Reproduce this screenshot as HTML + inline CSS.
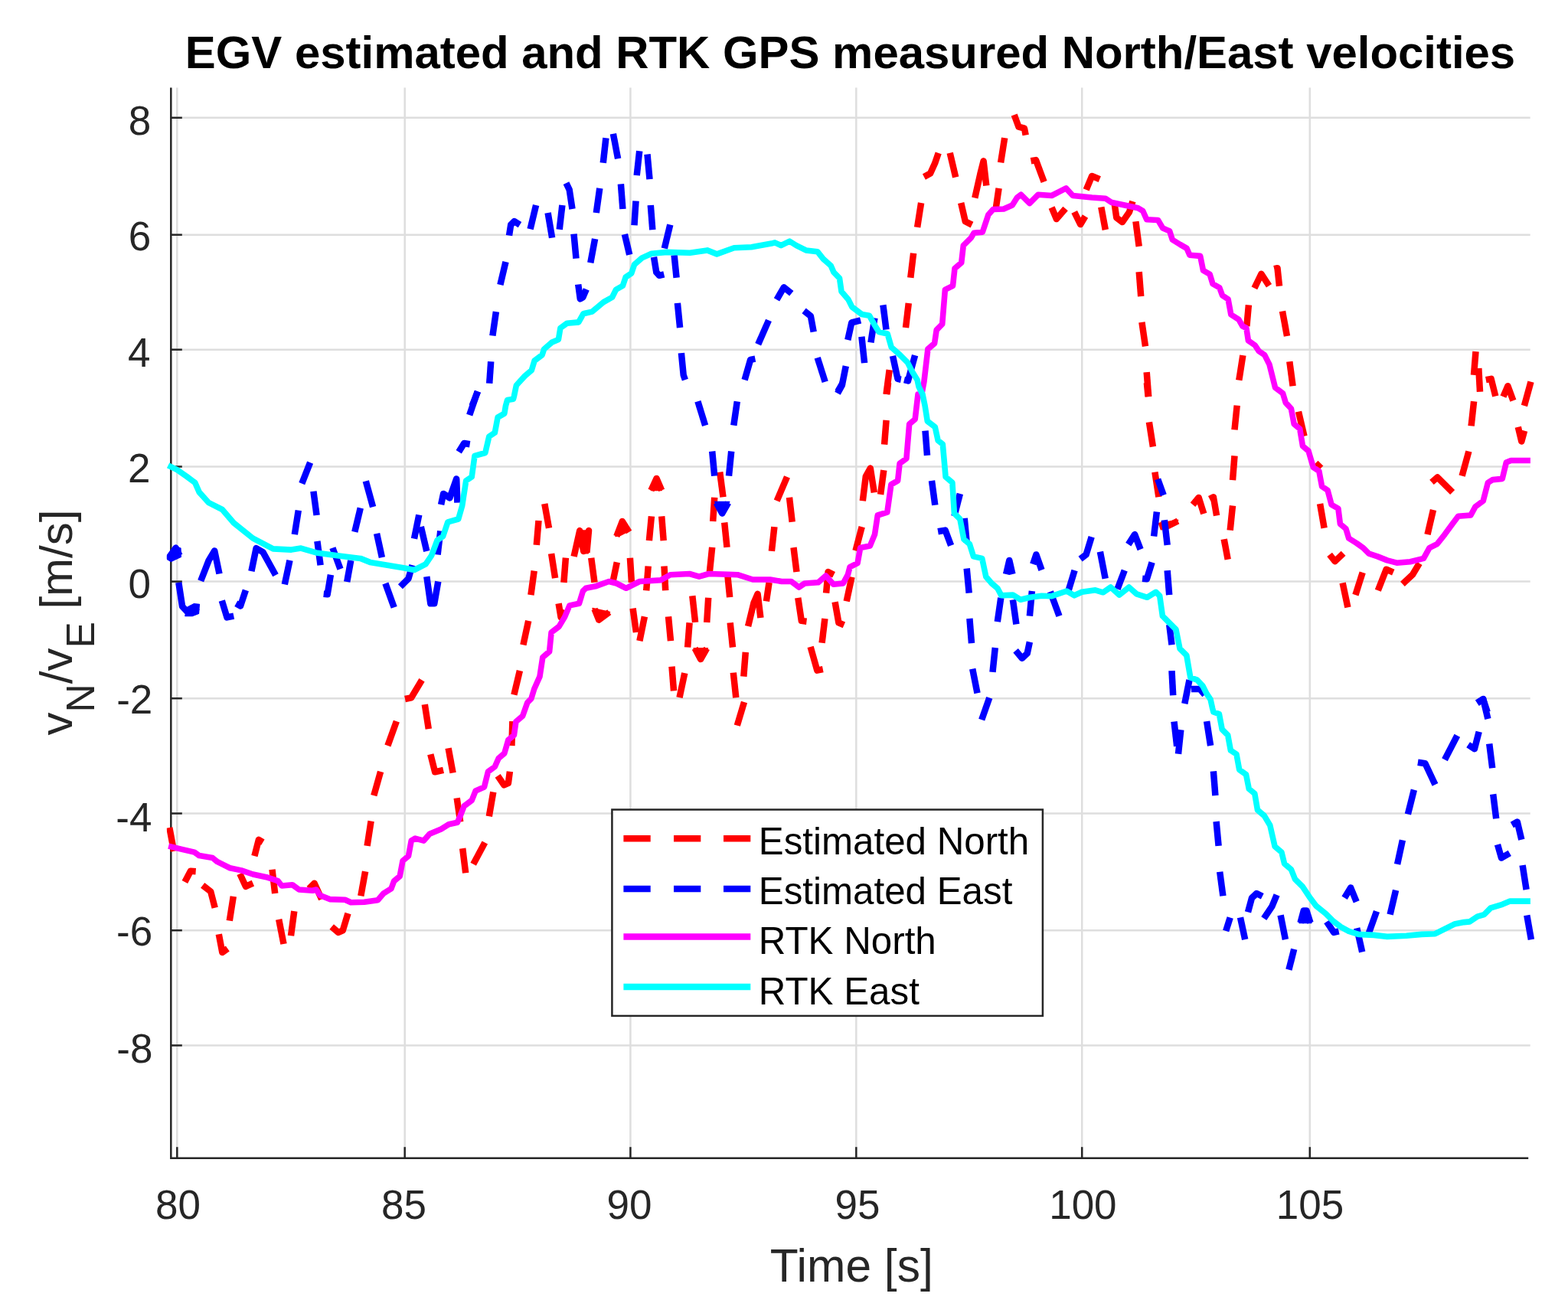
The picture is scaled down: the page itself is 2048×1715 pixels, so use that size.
<!DOCTYPE html>
<html lang="en"><head><meta charset="utf-8"><title>EGV estimated and RTK GPS measured North/East velocities</title>
<style>html,body{margin:0;padding:0;background:#fff}body{width:2048px;height:1715px;overflow:hidden}svg{display:block}text{font-family:"Liberation Sans",sans-serif}.tk{font-size:53px;fill:#262626}.lb{font-size:60.5px;fill:#262626}.lg{font-size:49.3px;fill:#000}.ti{font-size:59.9px;font-weight:bold;fill:#000}.g{stroke:#dedede;stroke-width:2.5;fill:none}.a{stroke:#262626;stroke-width:2.5;fill:none}.c{fill:none;stroke-width:8.5;stroke-linejoin:round;stroke-linecap:butt}</style></head><body>
<svg width="2048" height="1715" viewBox="0 0 2048 1715">
<rect width="2048" height="1715" fill="#fff"/>
<g class="g">
<line x1="231.3" y1="114.6" x2="231.3" y2="1512.7"/>
<line x1="528.7" y1="114.6" x2="528.7" y2="1512.7"/>
<line x1="823.4" y1="114.6" x2="823.4" y2="1512.7"/>
<line x1="1118.3" y1="114.6" x2="1118.3" y2="1512.7"/>
<line x1="1413.2" y1="114.6" x2="1413.2" y2="1512.7"/>
<line x1="1710.8" y1="114.6" x2="1710.8" y2="1512.7"/>
<line x1="223.3" y1="1365.5" x2="1998.7" y2="1365.5"/>
<line x1="223.3" y1="1215.2" x2="1998.7" y2="1215.2"/>
<line x1="223.3" y1="1062.5" x2="1998.7" y2="1062.5"/>
<line x1="223.3" y1="912.2" x2="1998.7" y2="912.2"/>
<line x1="223.3" y1="759.6" x2="1998.7" y2="759.6"/>
<line x1="223.3" y1="609.5" x2="1998.7" y2="609.5"/>
<line x1="223.3" y1="456.7" x2="1998.7" y2="456.7"/>
<line x1="223.3" y1="306.7" x2="1998.7" y2="306.7"/>
<line x1="223.3" y1="153.8" x2="1998.7" y2="153.8"/>
</g>
<g class="a">
<polyline points="223.3,114.6 223.3,1512.7 1996.2,1512.7"/>
<line x1="231.3" y1="1512.7" x2="231.3" y2="1498.2"/>
<line x1="528.7" y1="1512.7" x2="528.7" y2="1498.2"/>
<line x1="823.4" y1="1512.7" x2="823.4" y2="1498.2"/>
<line x1="1118.3" y1="1512.7" x2="1118.3" y2="1498.2"/>
<line x1="1413.2" y1="1512.7" x2="1413.2" y2="1498.2"/>
<line x1="1710.8" y1="1512.7" x2="1710.8" y2="1498.2"/>
<line x1="223.3" y1="1365.5" x2="237.8" y2="1365.5"/>
<line x1="223.3" y1="1215.2" x2="237.8" y2="1215.2"/>
<line x1="223.3" y1="1062.5" x2="237.8" y2="1062.5"/>
<line x1="223.3" y1="912.2" x2="237.8" y2="912.2"/>
<line x1="223.3" y1="759.6" x2="237.8" y2="759.6"/>
<line x1="223.3" y1="609.5" x2="237.8" y2="609.5"/>
<line x1="223.3" y1="456.7" x2="237.8" y2="456.7"/>
<line x1="223.3" y1="306.7" x2="237.8" y2="306.7"/>
<line x1="223.3" y1="153.8" x2="237.8" y2="153.8"/>
</g>
<clipPath id="cp"><rect x="217.8" y="114.6" width="1786.9" height="1398.1"/></clipPath>
<g clip-path="url(#cp)">
<g class="c" stroke="#ff0000">
<polyline points="693.4,777.1 697.7,745.7"/>
<polyline points="683.4,842.3 690.2,810.9"/>
<polyline points="671.4,907.4 678.9,876.1"/>
<polyline points="221.3,1081.0 227.1,1111.9"/>
<polyline points="241.4,1152.0 248.9,1137.7 255.7,1138.2"/>
<polyline points="264.7,1156.3 275.2,1164.5 280.7,1185.8"/>
<polyline points="285.8,1220.2 290.3,1244.0 297.3,1239.0"/>
<polyline points="299.8,1202.6 304.8,1170.8"/>
<polyline points="313.3,1141.2 320.9,1157.8 330.4,1153.7"/>
<polyline points="332.4,1118.1 337.9,1096.8 343.4,1100.1"/>
<polyline points="355.5,1135.7 359.2,1167.0"/>
<polyline points="364.2,1200.9 370.5,1233.0"/>
<polyline points="380.0,1222.2 384.3,1190.1"/>
<polyline points="403.6,1160.8 410.6,1153.7 420.1,1174.6"/>
<polyline points="433.2,1210.4 442.0,1217.9 447.7,1215.4 454.5,1192.9"/>
<polyline points="471.3,1170.3 477.1,1138.2"/>
<polyline points="479.6,1104.9 484.6,1072.5"/>
<polyline points="488.3,1039.2 497.1,1007.8"/>
<polyline points="506.4,974.0 517.9,942.1"/>
<polyline points="529.0,913.0 537.2,911.3 551.0,888.2"/>
<polyline points="554.8,920.1 559.8,952.2"/>
<polyline points="562.3,985.2 568.1,1008.3 579.1,1005.8"/>
<polyline points="585.6,977.2 591.6,1009.6"/>
<polyline points="596.7,1042.4 601.2,1073.5"/>
<polyline points="604.2,1108.1 608.2,1140.2"/>
<polyline points="618.2,1128.7 633.3,1100.6"/>
<polyline points="638.8,1066.2 644.3,1034.6"/>
<polyline points="650.1,1013.3 658.3,1025.4 663.9,1022.9 665.9,1007.8"/>
<polyline points="668.4,974.0 669.4,942.1"/>
<polyline points="700.8,711.9 703.5,680.0"/>
<polyline points="711.3,658.0 717.0,689.8"/>
<polyline points="720.1,723.2 725.1,755.2"/>
<polyline points="729.6,788.3 732.6,806.4 737.6,797.1"/>
<polyline points="736.4,760.8 738.9,728.7"/>
<polyline points="749.6,726.9 757.2,693.1 762.2,720.1 769.0,693.1 766.4,721.9"/>
<polyline points="772.2,728.7 776.5,760.8"/>
<polyline points="776.5,795.4 782.2,809.7 795.8,799.6"/>
<polyline points="800.3,760.8 805.8,734.4"/>
<polyline points="805.3,700.6 812.8,681.0 821.6,695.1"/>
<polyline points="822.9,728.7 824.9,760.8"/>
<polyline points="826.6,794.6 830.9,826.0"/>
<polyline points="835.4,837.2 841.9,805.4"/>
<polyline points="844.2,771.3 846.7,739.5"/>
<polyline points="847.9,706.1 850.9,674.3"/>
<polyline points="850.4,640.4 857.5,624.9 864.2,640.4"/>
<polyline points="864.2,674.3 866.7,706.1"/>
<polyline points="867.5,739.5 869.2,771.3"/>
<polyline points="873.0,805.4 876.0,837.2"/>
<polyline points="877.5,870.6 880.0,902.4"/>
<polyline points="887.5,911.2 894.3,879.1"/>
<polyline points="898.1,845.5 900.6,813.4"/>
<polyline points="904.3,778.3 908.1,812.9"/>
<polyline points="907.6,846.8 915.1,861.1 923.2,846.8"/>
<polyline points="923.2,812.9 925.2,780.8"/>
<polyline points="926.9,747.0 930.2,714.9"/>
<polyline points="931.2,681.0 933.2,649.7"/>
<polyline points="940.2,616.6 944.5,649.2"/>
<polyline points="946.2,682.5 949.5,714.9"/>
<polyline points="950.0,748.2 953.2,780.1"/>
<polyline points="953.7,813.4 957.0,845.5"/>
<polyline points="957.8,878.6 961.3,911.2"/>
<polyline points="962.8,947.6 972.0,917.0"/>
<polyline points="971.3,883.6 973.8,851.8"/>
<polyline points="977.1,817.9 984.6,787.1 989.6,775.8 993.4,807.1"/>
<polyline points="1000.9,785.3 1004.6,760.8"/>
<polyline points="1007.9,719.9 1011.4,688.1"/>
<polyline points="1014.7,654.2 1028.0,622.9"/>
<polyline points="1031.0,649.7 1034.7,681.8"/>
<polyline points="1036.5,715.1 1040.5,747.0"/>
<polyline points="1042.3,780.8 1046.8,810.9 1053.5,811.7"/>
<polyline points="1058.6,844.8 1067.3,875.6 1074.8,874.1"/>
<polyline points="1073.6,839.7 1077.4,807.9"/>
<polyline points="1079.1,774.6 1081.6,747.0 1089.1,750.7"/>
<polyline points="1090.6,786.3 1095.4,813.4 1102.4,816.4"/>
<polyline points="1105.7,785.3 1112.5,753.7"/>
<polyline points="1117.5,719.4 1125.7,688.1"/>
<polyline points="1126.8,654.2 1130.8,622.4 1136.8,611.6 1141.8,643.4"/>
<polyline points="1150.1,645.9 1154.3,614.1"/>
<polyline points="1155.1,580.7 1157.6,548.9"/>
<polyline points="1158.3,515.0 1160.1,500.0"/>
<polyline points="1157.5,515.0 1161.7,483.1"/>
<polyline points="1183.0,428.0 1186.8,395.9"/>
<polyline points="1189.3,362.8 1193.1,330.7"/>
<polyline points="1198.1,296.8 1203.1,265.0"/>
<polyline points="1206.9,230.9 1215.1,226.6 1221.1,213.3 1225.7,199.8"/>
<polyline points="1240.7,199.8 1248.2,231.6"/>
<polyline points="1255.2,265.0 1260.8,289.3 1269.5,293.6"/>
<polyline points="1273.3,258.5 1280.3,227.4 1284.6,210.3 1288.3,242.4"/>
<polyline points="1300.9,271.0 1304.6,245.9"/>
<polyline points="1307.1,212.3 1312.2,180.2"/>
<polyline points="1324.7,150.1 1330.5,165.7 1338.0,167.7 1339.7,176.5"/>
<polyline points="1346.5,210.3 1353.0,209.1 1363.6,237.4"/>
<polyline points="1373.6,271.0 1379.9,286.0 1391.6,272.5"/>
<polyline points="1403.2,276.8 1411.2,293.1 1417.5,282.5"/>
<polyline points="1418.7,247.9 1426.2,229.9 1436.3,234.1"/>
<polyline points="1438.3,270.5 1443.8,300.1"/>
<polyline points="1455.1,262.5 1458.3,284.3 1465.9,290.1 1475.1,276.8 1479.4,263.0"/>
<polyline points="1483.4,289.3 1487.7,321.9"/>
<polyline points="1487.7,355.2 1490.2,387.1"/>
<polyline points="1491.4,420.9 1496.0,452.3"/>
<polyline points="1497.7,486.1 1500.2,518.2"/>
<polyline points="1618.3,496.7 1623.4,464.1"/>
<polyline points="1628.4,426.0 1630.9,398.4"/>
<polyline points="1638.4,376.3 1647.4,357.8 1657.5,373.3"/>
<polyline points="1664.2,351.2 1668.5,350.2 1671.0,373.8"/>
<polyline points="1675.0,406.4 1681.0,439.0"/>
<polyline points="1684.3,472.3 1688.6,504.2"/>
<polyline points="1925.0,489.9 1927.5,459.1"/>
<polyline points="1931.3,481.1 1933.0,511.7"/>
<polyline points="1940.8,496.2 1947.6,494.9 1953.3,517.5"/>
<polyline points="1963.4,518.2 1969.4,504.2 1976.4,523.2"/>
<polyline points="1990.9,530.0 1999.5,498.7"/>
<polyline points="1497.9,500.0 1499.6,518.1"/>
<polyline points="1500.9,551.4 1505.9,583.5"/>
<polyline points="1508.4,616.6 1513.4,649.2"/>
<polyline points="1515.4,685.5 1526.0,686.8 1538.5,680.5"/>
<polyline points="1558.0,659.2 1565.6,649.9 1572.3,671.0"/>
<polyline points="1579.9,651.7 1584.9,649.2 1589.1,673.5"/>
<polyline points="1598.7,704.3 1603.7,730.7"/>
<polyline points="1606.7,692.6 1610.0,660.5"/>
<polyline points="1610.0,627.1 1612.5,595.3"/>
<polyline points="1612.5,561.4 1615.7,529.6"/>
<polyline points="1696.0,537.6 1703.5,569.7"/>
<polyline points="1718.5,604.8 1725.3,611.6"/>
<polyline points="1724.1,658.0 1729.6,689.8"/>
<polyline points="1736.6,724.4 1743.6,733.2 1754.6,722.7"/>
<polyline points="1753.6,761.3 1760.4,793.4"/>
<polyline points="1770.4,777.1 1779.7,747.7"/>
<polyline points="1799.8,771.3 1810.6,743.7 1819.8,747.7"/>
<polyline points="1831.9,762.8 1844.9,750.7 1853.9,735.7"/>
<polyline points="1864.5,698.1 1872.0,666.0"/>
<polyline points="1870.0,629.9 1877.5,623.4 1897.1,642.9"/>
<polyline points="1909.6,621.6 1918.4,589.5"/>
<polyline points="1921.6,556.4 1925.1,524.3"/>
<polyline points="1982.8,557.7 1987.3,576.5 1991.1,562.7"/>
<polygon points="757.2,693.1 771.5,693.1 768.2,722.7 760.2,722.7" fill="#ff0000" stroke-width="1.5"/>
<polygon points="774.0,794.6 796.5,799.6 782.7,812.2" fill="#ff0000" stroke-width="1.5"/>
<polygon points="804.1,700.6 812.8,680.0 822.4,693.1 810.3,699.3" fill="#ff0000" stroke-width="1.5"/>
<polygon points="850.4,640.4 854.2,625.4 860.5,625.4 864.2,640.4" fill="#ff0000" stroke-width="1.5"/>
<polygon points="906.1,846.8 924.4,846.8 915.6,862.3" fill="#ff0000" stroke-width="1.5"/>
<polygon points="1513.4,683.5 1538.5,679.3 1537.2,684.3 1523.4,691.1 1516.4,691.8" fill="#ff0000" stroke-width="1.5"/>
</g>
<g class="c" stroke="#0000ff">
<polyline points="218.8,730.7 229.6,715.6 234.6,725.7"/>
<polyline points="233.3,760.8 238.1,792.1 245.1,799.6 258.9,792.9"/>
<polyline points="262.2,758.8 272.7,731.9 280.2,719.4 286.5,749.5"/>
<polyline points="289.8,784.6 296.5,806.4 305.3,804.6"/>
<polyline points="308.3,788.3 314.1,791.4 320.9,770.8"/>
<polyline points="328.4,746.2 334.6,716.1 343.4,721.1 360.0,751.2"/>
<polyline points="371.8,763.3 378.5,731.9"/>
<polyline points="384.8,698.1 389.8,666.7"/>
<polyline points="394.3,631.6 405.1,604.1"/>
<polyline points="409.4,641.7 413.6,673.0"/>
<polyline points="414.4,706.9 418.6,738.2"/>
<polyline points="422.7,775.8 427.7,776.3 431.9,750.7"/>
<polyline points="434.4,715.6 444.5,743.2"/>
<polyline points="453.2,760.0 458.3,731.9"/>
<polyline points="463.3,694.8 470.8,663.5"/>
<polyline points="477.8,628.4 487.1,662.2"/>
<polyline points="492.1,696.8 498.9,728.2"/>
<polyline points="503.4,762.0 514.7,793.4"/>
<polyline points="522.9,766.3 533.5,755.7 538.5,738.2"/>
<polyline points="541.0,703.6 547.3,672.5"/>
<polyline points="549.8,688.1 557.3,719.9"/>
<polyline points="557.3,753.2 562.3,788.3 567.3,788.3 572.3,759.5"/>
<polyline points="571.6,724.4 575.3,693.6"/>
<polyline points="576.1,659.2 579.1,644.9 587.4,650.4 596.2,625.4 597.4,656.7"/>
<polyline points="599.2,590.3 606.2,579.0 613.7,580.2"/>
<polyline points="613.2,542.1 623.7,511.3"/>
<polyline points="616.6,530.0 624.1,511.2"/>
<polyline points="639.2,500.7 641.2,472.3"/>
<polyline points="643.4,438.5 647.9,407.1"/>
<polyline points="653.4,372.0 660.5,342.0"/>
<polyline points="665.0,307.6 667.2,293.6 671.8,289.1 679.0,293.6"/>
<polyline points="692.6,299.3 700.1,268.0"/>
<polyline points="715.6,278.0 721.1,310.6"/>
<polyline points="730.7,299.8 734.4,268.0"/>
<polyline points="739.5,239.2 743.7,247.9 747.5,273.0"/>
<polyline points="749.5,305.6 752.5,337.7"/>
<polyline points="755.2,371.5 757.8,390.4 761.3,388.3 765.8,377.8"/>
<polyline points="771.3,343.2 777.1,311.9"/>
<polyline points="778.8,278.0 783.3,245.9"/>
<polyline points="787.8,212.8 791.4,180.2"/>
<polyline points="800.9,174.7 807.1,207.3"/>
<polyline points="810.9,240.4 813.4,273.0"/>
<polyline points="815.9,306.1 822.2,332.7"/>
<polyline points="828.5,294.3 830.5,262.5"/>
<polyline points="831.7,229.1 835.2,197.3"/>
<polyline points="845.5,201.5 848.5,234.1"/>
<polyline points="849.8,268.0 852.3,300.1"/>
<polyline points="854.0,335.7 857.3,355.7 861.1,359.8 867.3,358.3"/>
<polyline points="867.8,324.4 875.3,293.6"/>
<polyline points="880.6,333.2 883.6,362.8"/>
<polyline points="884.9,395.9 888.1,428.0"/>
<polyline points="889.9,461.1 892.7,489.9 894.9,496.2"/>
<polyline points="972.6,496.2 980.2,469.8 986.4,468.6"/>
<polyline points="990.2,449.8 1004.0,418.4"/>
<polyline points="1100.7,500.0 1094.2,511.3"/>
<polyline points="911.4,524.3 921.1,555.7"/>
<polyline points="958.3,555.7 962.8,524.3"/>
<polyline points="930.2,589.5 933.2,621.6"/>
<polyline points="952.0,621.6 955.2,589.5"/>
<polyline points="935.7,656.7 943.2,670.5 951.2,656.7"/>
<polyline points="1208.5,562.7 1211.0,594.8"/>
<polyline points="1014.5,391.4 1023.8,375.3 1033.8,383.3"/>
<polyline points="1050.1,405.9 1058.9,412.9 1062.7,433.5"/>
<polyline points="1067.7,467.3 1077.7,498.7"/>
<polyline points="1094.0,513.7 1099.8,503.2 1104.8,478.1"/>
<polyline points="1107.3,444.0 1112.3,421.4 1124.1,418.4"/>
<polyline points="1125.4,439.7 1129.1,474.1"/>
<polyline points="1137.4,447.3 1142.4,415.4"/>
<polyline points="1153.4,398.4 1157.5,430.5"/>
<polyline points="1166.0,464.8 1172.5,494.9 1176.8,495.7"/>
<polyline points="1181.0,496.2 1186.0,497.4 1195.1,464.1"/>
<polyline points="1217.0,627.9 1221.3,659.7"/>
<polyline points="1225.1,694.3 1234.6,692.6 1242.1,712.6"/>
<polyline points="1246.4,674.3 1253.9,644.9"/>
<polyline points="1259.7,676.8 1262.7,708.6"/>
<polyline points="1262.7,742.5 1265.7,774.6"/>
<polyline points="1266.4,807.9 1269.0,840.2"/>
<polyline points="1270.2,873.6 1276.5,905.4"/>
<polyline points="1296.5,877.9 1299.8,846.0"/>
<polyline points="1302.8,812.2 1307.3,780.8"/>
<polyline points="1314.1,750.0 1318.3,731.9 1322.4,750.0"/>
<polyline points="1322.9,783.3 1327.4,815.4"/>
<polyline points="1326.6,849.8 1334.9,859.8 1341.7,853.5 1344.9,838.5"/>
<polyline points="1344.9,804.6 1347.9,772.0"/>
<polyline points="1349.2,736.9 1353.4,724.4 1360.5,744.5"/>
<polyline points="1371.8,772.8 1383.5,804.6"/>
<polyline points="1395.6,771.3 1403.6,745.0"/>
<polyline points="1411.1,730.2 1418.6,724.4 1425.7,701.3"/>
<polyline points="1436.9,720.6 1443.7,755.7"/>
<polyline points="1459.5,769.5 1468.8,745.0"/>
<polyline points="1473.8,711.1 1482.1,698.1 1489.6,717.6"/>
<polyline points="1492.1,755.7 1497.9,756.3 1504.6,734.4"/>
<polyline points="1507.1,700.6 1510.9,668.5"/>
<polyline points="1512.2,625.9 1519.7,646.7"/>
<polyline points="1520.9,679.3 1524.7,711.9"/>
<polyline points="1524.7,745.2 1527.2,777.1"/>
<polyline points="1527.2,815.9 1530.5,842.3"/>
<polyline points="1530.5,876.1 1532.2,908.2"/>
<polyline points="1547.3,919.2 1553.5,888.1"/>
<polyline points="1556.0,899.9 1567.3,899.9 1573.6,907.4"/>
<polyline points="1929.7,918.2 1937.2,913.2 1942.7,930.0"/>
<polyline points="1282.2,940.1 1292.3,911.3"/>
<polyline points="1533.5,942.6 1537.2,974.7"/>
<polyline points="1542.3,953.2 1539.0,984.7"/>
<polyline points="1576.1,942.1 1581.1,974.0"/>
<polyline points="1584.9,1007.3 1587.4,1039.2"/>
<polyline points="1588.6,1073.0 1591.6,1104.9"/>
<polyline points="1593.2,1138.7 1597.4,1170.3"/>
<polyline points="1601.2,1215.9 1606.7,1198.4"/>
<polyline points="1620.0,1198.4 1626.2,1227.2"/>
<polyline points="1630.0,1191.4 1635.0,1172.8 1641.3,1167.0 1648.8,1170.8"/>
<polyline points="1650.8,1199.6 1661.4,1183.8 1667.6,1168.8"/>
<polyline points="1672.6,1195.4 1678.9,1227.2"/>
<polyline points="1683.4,1266.6 1690.2,1239.7"/>
<polyline points="1698.5,1205.4 1702.7,1189.6 1706.5,1189.6 1711.5,1205.4"/>
<polyline points="1732.8,1203.9 1742.1,1217.9 1748.6,1216.4"/>
<polyline points="1756.1,1172.8 1764.2,1159.5 1771.7,1177.8"/>
<polyline points="1772.2,1212.2 1779.2,1243.5"/>
<polyline points="1788.0,1218.4 1798.0,1190.4"/>
<polyline points="1815.6,1194.6 1823.1,1162.8"/>
<polyline points="1825.1,1128.9 1831.9,1097.3"/>
<polyline points="1838.9,1063.5 1846.9,1031.6"/>
<polyline points="1851.9,995.8 1861.5,997.3 1874.5,1024.9"/>
<polyline points="1887.0,992.3 1903.3,960.7"/>
<polyline points="1917.6,972.7 1925.9,978.2 1931.7,955.7"/>
<polyline points="1929.2,918.1 1937.2,913.0 1943.4,938.9"/>
<polyline points="1945.2,971.5 1949.2,1003.3"/>
<polyline points="1950.2,1037.4 1954.2,1069.2"/>
<polyline points="1956.0,1103.1 1961.0,1120.6 1971.8,1114.4"/>
<polyline points="1974.8,1077.5 1981.8,1073.5 1987.3,1096.8"/>
<polyline points="1988.6,1130.2 1993.6,1162.0"/>
<polyline points="1994.3,1195.4 1999.9,1227.2"/>
<polygon points="933.7,655.5 952.7,655.5 943.2,673.0" fill="#0000ff" stroke-width="1.5"/>
<polygon points="1697.0,1205.4 1700.2,1188.3 1708.5,1188.3 1712.8,1205.4" fill="#0000ff" stroke-width="1.5"/>
<polygon points="218.4,730.3 227.8,713.1 235.9,716.2 236.2,727.2 223.4,733.4" fill="#0000ff" stroke-width="1.5"/>
<polygon points="241.9,804.4 245.3,792.8 253.1,788.8 260.3,789.4 259.4,801.2 251.6,804.4" fill="#0000ff" stroke-width="1.5"/>
</g>
<polyline class="c" style="stroke-width:7.6" stroke="#ff00ff" points="220.1,1105.1 237.6,1109.4 253.9,1113.1 260.2,1117.6 277.7,1120.6 284.0,1125.7 294.0,1130.7 300.3,1133.7 315.3,1136.9 330.4,1142.0 347.9,1145.7 363.0,1150.7 368.0,1157.0 381.8,1155.7 390.6,1162.0 408.1,1163.3 413.1,1162.0 418.1,1169.5 430.7,1174.6 450.7,1175.3 458.3,1178.8 475.8,1178.3 493.4,1175.8 500.9,1167.0 510.9,1160.8 514.7,1150.7 522.2,1144.5 526.0,1124.4 533.5,1118.1 537.2,1098.1 542.3,1095.1 553.5,1098.1 561.1,1089.3 576.1,1083.0 586.1,1076.8 597.4,1074.3 601.2,1065.5 606.2,1052.9 616.2,1045.4 621.2,1032.9 632.5,1027.9 637.5,1007.8 646.3,1001.5 651.3,990.3 658.8,984.0 663.9,966.4 671.4,960.2 673.9,942.6 682.7,935.1 688.9,917.6 693.9,912.5 697.7,900.0 705.0,883.6 708.8,858.6 717.6,851.0 720.1,826.0 730.1,818.4 737.6,805.9 743.9,790.9 756.4,788.3 761.4,772.0 765.2,768.3 777.7,765.8 795.3,759.5 805.3,762.0 817.8,768.3 835.4,759.5 863.0,757.8 875.5,750.7 900.6,749.5 913.1,753.2 925.7,749.5 950.7,750.2 963.3,750.7 983.3,757.0 1005.9,757.0 1020.9,759.5 1033.5,759.5 1043.5,767.0 1051.0,762.0 1068.6,760.8 1078.6,752.0 1088.6,763.3 1101.2,762.0 1107.4,750.7 1110.0,740.7 1120.0,735.7 1123.7,715.6 1136.3,713.1 1142.5,698.1 1146.3,673.0 1158.8,669.2 1163.9,632.9 1172.6,627.9 1175.1,605.3 1183.9,599.0 1187.7,553.9 1195.2,547.6 1199.0,515.0 1203.6,516.2 1206.9,498.7 1211.9,456.0 1220.6,448.5 1223.2,431.0 1230.7,423.4 1234.4,378.3 1244.5,373.3 1247.0,350.7 1255.7,343.2 1258.3,320.6 1268.3,310.6 1272.0,304.3 1283.3,303.1 1290.9,280.5 1297.1,273.5 1310.9,273.0 1322.2,268.0 1328.5,258.0 1333.5,254.2 1344.8,265.5 1356.0,254.2 1373.6,255.5 1383.6,250.4 1392.4,245.9 1401.2,255.5 1426.2,258.0 1443.8,259.2 1451.3,264.2 1468.9,268.0 1486.4,271.8 1492.7,275.5 1497.7,286.8 1512.0,287.5 1512.5,287.5 1518.8,298.1 1527.6,301.8 1531.3,313.1 1541.4,319.4 1550.1,324.4 1553.9,333.2 1567.7,334.4 1571.5,353.2 1580.2,358.3 1584.0,370.8 1592.8,375.8 1596.5,385.8 1604.1,390.9 1607.8,410.9 1617.8,417.2 1622.9,426.0 1627.9,428.5 1630.4,444.8 1639.2,451.0 1644.2,458.6 1651.7,463.6 1658.0,476.1 1665.5,506.2 1675.5,513.7 1679.3,526.2 1683.0,530.0 1686.4,533.8 1690.2,553.9 1697.7,560.2 1701.5,582.7 1709.0,589.0 1715.3,610.3 1722.8,615.3 1726.6,635.4 1734.1,640.4 1739.1,659.2 1747.9,664.2 1750.4,684.3 1757.9,690.6 1761.7,703.1 1771.7,709.4 1780.5,715.6 1788.0,723.2 1799.3,726.9 1811.8,731.9 1824.3,735.2 1841.9,733.7 1859.4,729.4 1867.0,715.6 1877.0,710.6 1887.0,698.1 1897.1,684.3 1904.6,674.3 1920.9,673.0 1927.1,661.7 1937.2,654.2 1943.4,630.4 1949.7,626.6 1962.2,625.4 1967.3,604.1 1973.5,601.5 1998.9,601.5"/>
<polyline class="c" style="stroke-width:7.6" stroke="#00ffff" points="219.6,607.8 231.3,613.6 243.9,622.4 254.7,630.4 260.2,642.9 272.7,656.7 290.3,665.5 305.3,683.0 330.4,703.1 356.7,716.9 380.5,718.1 393.1,716.1 413.1,721.9 440.7,725.7 470.8,729.4 483.3,734.4 505.9,738.2 528.5,742.0 541.0,744.5 556.0,736.9 563.6,725.7 571.1,705.6 578.6,700.6 584.9,681.8 598.7,678.0 603.7,660.5 608.7,627.9 616.2,622.9 620.0,595.3 633.8,591.5 638.8,570.2 646.3,565.2 650.1,545.1 658.8,540.1 660.5,530.0 662.6,522.6 670.5,521.2 671.4,517.6 674.3,503.7 675.1,502.5 685.5,491.1 694.3,483.6 698.1,471.1 708.1,463.6 710.6,456.0 720.6,447.3 729.4,443.5 731.9,428.5 740.7,422.2 755.7,420.9 762.0,409.7 773.3,407.1 788.3,394.6 799.6,388.3 804.6,378.3 813.4,373.3 817.2,362.0 824.7,357.0 828.5,345.7 838.5,336.9 851.0,331.2 871.1,329.4 901.2,330.2 923.7,326.9 936.3,331.9 958.8,323.7 981.4,322.7 1007.5,318.1 1012.0,316.9 1020.1,320.6 1031.3,315.1 1040.1,320.6 1052.7,326.9 1067.7,328.7 1075.2,338.2 1085.2,347.0 1089.0,355.7 1096.5,363.3 1099.0,380.8 1107.8,390.9 1112.8,400.9 1125.4,410.4 1135.4,412.2 1141.7,423.4 1147.9,433.5 1159.2,436.0 1164.2,453.5 1175.5,463.6 1185.5,473.6 1191.8,486.1 1198.1,496.2 1200.0,505.0 1203.1,511.2 1205.0,515.0 1208.1,530.0 1211.3,550.1 1221.3,557.7 1225.1,575.2 1231.3,580.2 1235.1,622.9 1243.9,630.4 1246.4,670.5 1253.9,678.0 1258.9,704.3 1266.4,710.6 1271.5,726.9 1282.7,729.4 1287.8,753.2 1295.3,762.0 1302.8,768.3 1307.8,777.8 1322.9,777.1 1332.9,783.3 1345.4,780.3 1360.5,778.3 1373.0,778.8 1393.1,772.0 1403.1,777.8 1413.1,773.3 1430.7,770.8 1440.7,773.8 1450.7,767.0 1462.0,777.1 1474.6,767.0 1484.6,775.8 1498.4,780.3 1509.7,773.3 1514.7,778.3 1518.4,804.6 1526.0,812.2 1536.0,822.2 1541.0,847.3 1549.8,856.0 1554.8,884.9 1563.6,888.1 1571.1,896.2 1576.1,906.2 1581.1,913.7 1583.6,925.1 1584.9,930.0 1592.4,932.6 1596.2,952.7 1603.7,960.2 1607.4,980.2 1615.0,985.2 1618.7,1005.3 1627.5,1011.6 1631.3,1030.4 1638.8,1036.7 1642.5,1058.0 1651.3,1065.5 1658.8,1078.0 1665.1,1105.6 1673.9,1113.1 1677.6,1128.2 1686.4,1135.7 1691.4,1148.2 1701.5,1158.3 1711.5,1173.3 1719.0,1183.3 1731.6,1193.4 1741.6,1203.4 1751.6,1210.9 1761.7,1216.4 1774.2,1220.4 1794.3,1221.4 1811.8,1223.4 1836.9,1222.2 1856.9,1220.4 1874.5,1219.7 1887.0,1213.4 1899.6,1207.1 1912.1,1204.6 1919.6,1203.9 1929.7,1197.1 1938.4,1194.6 1947.2,1185.8 1962.2,1181.3 1972.3,1177.1 1998.9,1177.1"/>
</g>
<text class="tk" x="232.4" y="1592.3" text-anchor="middle">80</text>
<text class="tk" x="527.4" y="1592.3" text-anchor="middle">85</text>
<text class="tk" x="822.1" y="1592.3" text-anchor="middle">90</text>
<text class="tk" x="1120.0" y="1592.3" text-anchor="middle">95</text>
<text class="tk" x="1414.4" y="1592.3" text-anchor="middle">100</text>
<text class="tk" x="1711.0" y="1592.3" text-anchor="middle">105</text>
<text class="tk" x="199.5" y="1387.8" text-anchor="end">-8</text>
<text class="tk" x="199.2" y="1234.8" text-anchor="end">-6</text>
<text class="tk" x="198.5" y="1085.5" text-anchor="end">-4</text>
<text class="tk" x="199.3" y="932.3" text-anchor="end">-2</text>
<text class="tk" x="197.0" y="781.4" text-anchor="end">0</text>
<text class="tk" x="196.5" y="629.6" text-anchor="end">2</text>
<text class="tk" x="196.5" y="479.0" text-anchor="end">4</text>
<text class="tk" x="197.2" y="326.8" text-anchor="end">6</text>
<text class="tk" x="197.2" y="176.1" text-anchor="end">8</text>
<text class="lb" x="1112.3" y="1673.8" text-anchor="middle">Time [s]</text>
<text class="lb" transform="translate(93.5,813) rotate(-90)" text-anchor="middle" style="font-size:60px">v<tspan style="font-size:51.5px" dy="29.5">N</tspan><tspan dy="-29.5">/v</tspan><tspan style="font-size:51.5px" dy="29.5">E</tspan><tspan dy="-29.5"> [m/s]</tspan></text>
<text class="ti" x="1110.5" y="88.8" text-anchor="middle">EGV estimated and RTK GPS measured North/East velocities</text>
<rect x="799.4" y="1057.5" width="562.5" height="269.4" fill="#fff" stroke="#262626" stroke-width="2.5"/>
<line x1="814.4" y1="1095.3" x2="849.7" y2="1095.3" stroke="#ff0000" stroke-width="8.5"/>
<line x1="880.0" y1="1095.3" x2="915.3" y2="1095.3" stroke="#ff0000" stroke-width="8.5"/>
<line x1="945.0" y1="1095.3" x2="980.3" y2="1095.3" stroke="#ff0000" stroke-width="8.5"/>
<text class="lg" x="990.8" y="1115.6">Estimated North</text>
<line x1="814.4" y1="1160.9" x2="849.7" y2="1160.9" stroke="#0000ff" stroke-width="8.5"/>
<line x1="880.0" y1="1160.9" x2="915.3" y2="1160.9" stroke="#0000ff" stroke-width="8.5"/>
<line x1="945.0" y1="1160.9" x2="980.3" y2="1160.9" stroke="#0000ff" stroke-width="8.5"/>
<text class="lg" x="990.8" y="1181.2">Estimated East</text>
<line x1="814.4" y1="1223.6" x2="980.3" y2="1223.6" stroke="#ff00ff" stroke-width="8.5"/>
<text class="lg" x="990.8" y="1246.0">RTK North</text>
<line x1="814.4" y1="1289.1" x2="980.3" y2="1289.1" stroke="#00ffff" stroke-width="8.5"/>
<text class="lg" x="990.8" y="1311.5">RTK East</text>
</svg></body></html>
